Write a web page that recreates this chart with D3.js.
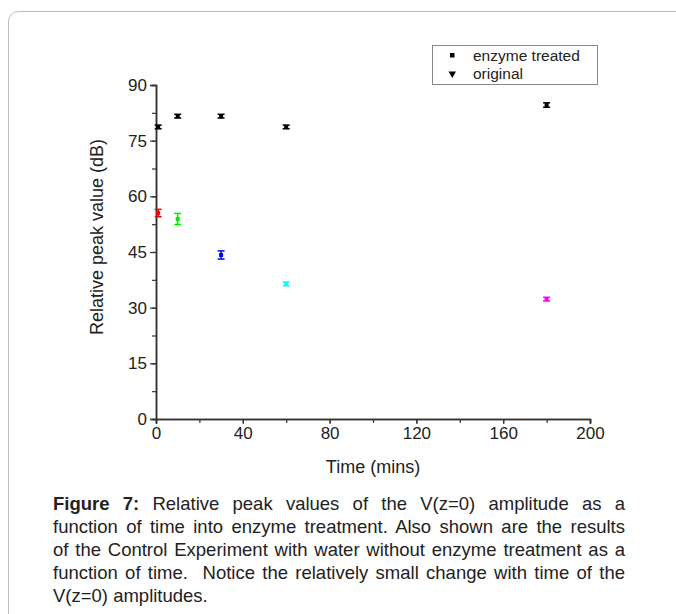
<!DOCTYPE html>
<html>
<head>
<meta charset="utf-8">
<script src="https://cdn.jsdelivr.net/npm/d3@7"></script>
<style>
  body { margin: 0; background: #fff; font-family: "Liberation Sans", Arial, sans-serif; }
  #wrap { position: relative; width: 676px; height: 614px; overflow: hidden; }
  #caption { position: absolute; left: 53px; top: 492px; width: 572px; font-size: 18.5px; line-height: 23px; color: #222; }
  #caption div { text-align: justify; text-align-last: justify; white-space: pre; }
  #caption div.last { text-align-last: left; }
</style>
</head>
<body>
<div id="wrap">
  <svg id="chart" width="676" height="614"></svg>
  <div id="caption"></div>
</div>
<script>
// enzyme treated series (black)
const treatedTime = [1, 10, 30, 60, 180];
const treatedValue = [78.7, 81.6, 81.6, 78.7, 84.6];
const treatedErr = [0.5, 0.5, 0.5, 0.5, 0.6];

// control (original) series, one colour per time
const origTime = [1, 10, 30, 60, 180];
const origValue = [55.5, 53.9, 44.2, 36.4, 32.3];
const origErr = [1.0, 1.5, 1.1, 0.5, 0.5];
const origColor = ["#ff0000", "#00ee00", "#0000ff", "#00ffff", "#ff00ff"];

const xTicks = [0, 40, 80, 120, 160, 200];
const yTicks = [0, 15, 30, 45, 60, 75, 90];

const captionLines = [
  ["Figure 7:", " Relative peak values of the V(z=0) amplitude as a"],
  ["", "function of time into enzyme treatment. Also shown are the results"],
  ["", "of the Control Experiment with water without enzyme treatment as a"],
  ["", "function of time.  Notice the relatively small change with time of the"],
  ["", "V(z=0) amplitudes."]
];

const svg = d3.select("#chart");

// card border
svg.append("rect")
  .attr("x", 8.5).attr("y", 11.5)
  .attr("width", 700).attr("height", 640)
  .attr("rx", 10)
  .attr("fill", "none").attr("stroke", "#bdbdbd").attr("stroke-width", 1);

const x = d3.scaleLinear().domain([0, 200]).range([156, 590]);
const y = d3.scaleLinear().domain([0, 90]).range([419, 85]);

const axisColor = "#333";

// x axis
const gx = svg.append("g").attr("transform", `translate(0,${y(0)})`);
gx.call(d3.axisBottom(x).tickValues(d3.range(0, 201, 20)).tickSize(4).tickFormat(""));
gx.append("g").call(d3.axisBottom(x).tickValues(xTicks).tickSize(5).tickPadding(3));
gx.selectAll("path.domain").attr("stroke", axisColor).attr("stroke-width", 1.5);
gx.selectAll("line").attr("stroke", axisColor).attr("stroke-width", 1.2);
gx.selectAll("text").attr("font-size", 17).attr("fill", "#222")
  .attr("font-family", "Liberation Sans, Arial, sans-serif");

// y axis
const gy = svg.append("g").attr("transform", `translate(${x(0)},0)`);
gy.call(d3.axisLeft(y).tickValues(d3.range(0, 91, 7.5)).tickSize(4).tickFormat(""));
gy.append("g").call(d3.axisLeft(y).tickValues(yTicks).tickSize(6).tickPadding(3));
gy.selectAll("path.domain").attr("stroke", axisColor).attr("stroke-width", 1.5);
gy.selectAll("line").attr("stroke", axisColor).attr("stroke-width", 1.2);
gy.selectAll("text").attr("font-size", 17).attr("fill", "#222")
  .attr("font-family", "Liberation Sans, Arial, sans-serif");

// axis titles
svg.append("text")
  .attr("x", x(100)).attr("y", 473)
  .attr("text-anchor", "middle")
  .attr("font-size", 18).attr("fill", "#222")
  .text("Time (mins)");

svg.append("text")
  .attr("transform", "translate(103,237) rotate(-90)")
  .attr("text-anchor", "middle")
  .attr("font-size", 18).attr("fill", "#222")
  .text("Relative peak value (dB)");

// points with error bars
function drawPoint(g, t, v, e, color) {
  const px = x(t), cap = 3.5;
  g.append("line").attr("x1", px).attr("x2", px)
    .attr("y1", y(v + e)).attr("y2", y(v - e))
    .attr("stroke", color).attr("stroke-width", 1.5);
  [v + e, v - e].forEach(yy => {
    g.append("line").attr("x1", px - cap).attr("x2", px + cap)
      .attr("y1", y(yy)).attr("y2", y(yy))
      .attr("stroke", color).attr("stroke-width", 1.5);
  });
  g.append("rect").attr("x", px - 2).attr("y", y(v) - 2)
    .attr("width", 4).attr("height", 4).attr("fill", color);
}

const pts = svg.append("g");
treatedTime.forEach((t, i) => drawPoint(pts, t, treatedValue[i], treatedErr[i], "#000"));
origTime.forEach((t, i) => drawPoint(pts, t, origValue[i], origErr[i], origColor[i]));

// legend
const lg = svg.append("g");
lg.append("rect").attr("x", 432.5).attr("y", 45.5).attr("width", 165).attr("height", 39)
  .attr("fill", "#fff").attr("stroke", "#888").attr("stroke-width", 1);
lg.append("rect").attr("x", 450).attr("y", 53).attr("width", 4.5).attr("height", 4.5).attr("fill", "#000");
lg.append("path").attr("d", "M448.5,71.5 L456,71.5 L452.25,78 Z").attr("fill", "#000");
lg.append("text").attr("x", 473).attr("y", 61).attr("font-size", 15.5).attr("fill", "#222").text("enzyme treated");
lg.append("text").attr("x", 473).attr("y", 79).attr("font-size", 15.5).attr("fill", "#222").text("original");

// caption
const cap = d3.select("#caption");
captionLines.forEach((ln, i) => {
  const div = cap.append("div").classed("last", i === captionLines.length - 1);
  if (ln[0]) div.append("b").text(ln[0]);
  div.append("span").text(ln[1]);
});
</script>
</body>
</html>
